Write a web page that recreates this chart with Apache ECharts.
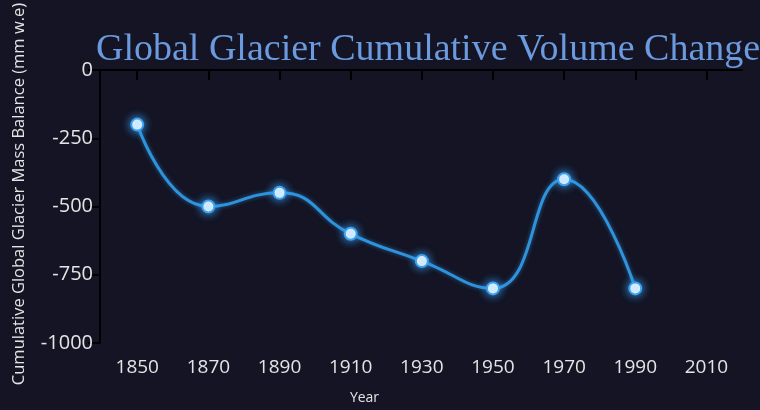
<!DOCTYPE html>
<html>
<head>
<meta charset="utf-8">
<script src="https://cdn.jsdelivr.net/npm/echarts@6/dist/echarts.min.js"></script>
<style>
  html, body { margin: 0; padding: 0; background: #141424; }
  #chart { width: 760px; height: 410px; }
</style>
</head>
<body>
<div id="chart"></div>
<script>
var years = [1850, 1870, 1890, 1910, 1930, 1950, 1970, 1990];
var balance = [-200, -500, -450, -600, -700, -800, -400, -800];
var yearTicks = [1850, 1870, 1890, 1910, 1930, 1950, 1970, 1990, 2010];

var labelColor = '#e4e4e4';
var chart = echarts.init(document.getElementById('chart'));

var points = [];
for (var i = 0; i < years.length; i++) {
    points.push([years[i], balance[i]]);
}

chart.setOption({
    backgroundColor: '#141424',
    animation: false,
    title: {
        text: 'Global Glacier Cumulative Volume Change',
        left: 91,
        top: 26,
        textStyle: {
            color: '#6b9ade',
            fontFamily: 'Liberation Serif',
            fontWeight: 'normal',
            fontSize: 38
        }
    },
    grid: { left: 91, right: 18, top: 70, bottom: 67, outerBoundsMode: 'none', containLabel: false },
    xAxis: {
        type: 'value',
        min: 1837,
        max: 2020,
        name: 'Year',
        nameLocation: 'middle',
        nameGap: 48,
        nameTextStyle: { color: labelColor, fontFamily: 'Open Sans', fontSize: 14, padding: [0, 104, 0, 0] },
        splitLine: { show: false },
        axisLine: { lineStyle: { color: '#000', width: 2 } },
        axisTick: { customValues: yearTicks, length: 10, lineStyle: { color: '#000', width: 2 } },
        axisLabel: {
            customValues: yearTicks,
            color: labelColor,
            fontFamily: 'Open Sans',
            fontSize: 19,
            margin: 15,
            formatter: function (v) { return String(v); }
        }
    },
    yAxis: {
        type: 'value',
        min: -1000,
        max: 0,
        interval: 250,
        offset: -9,
        name: 'Cumulative Global Glacier Mass Balance (mm w.e)',
        nameLocation: 'middle',
        nameGap: 72,
        nameTextStyle: { color: labelColor, fontFamily: 'Open Sans', fontSize: 16.5, padding: [0, 0, 0, 25] },
        splitLine: { show: false },
        axisLine: { show: true, lineStyle: { color: '#000', width: 2 } },
        axisTick: { show: true, length: 12, lineStyle: { color: '#000', width: 2 } },
        axisLabel: {
            color: labelColor,
            fontFamily: 'Open Sans',
            fontSize: 20,
            margin: 7,
            formatter: function (v) { return String(v); }
        }
    },
    series: [{
        type: 'line',
        data: points,
        smooth: 0.5,
        symbol: 'circle',
        symbolSize: 12,
        lineStyle: { color: '#2f93dc', width: 3, shadowBlur: 4, shadowColor: 'rgba(47,147,220,0.6)' },
        itemStyle: { color: '#ffffff', borderColor: '#3aa2ee', borderWidth: 2, shadowBlur: 10, shadowColor: '#3aa2ff' }
    }]
});
</script>
</body>
</html>
